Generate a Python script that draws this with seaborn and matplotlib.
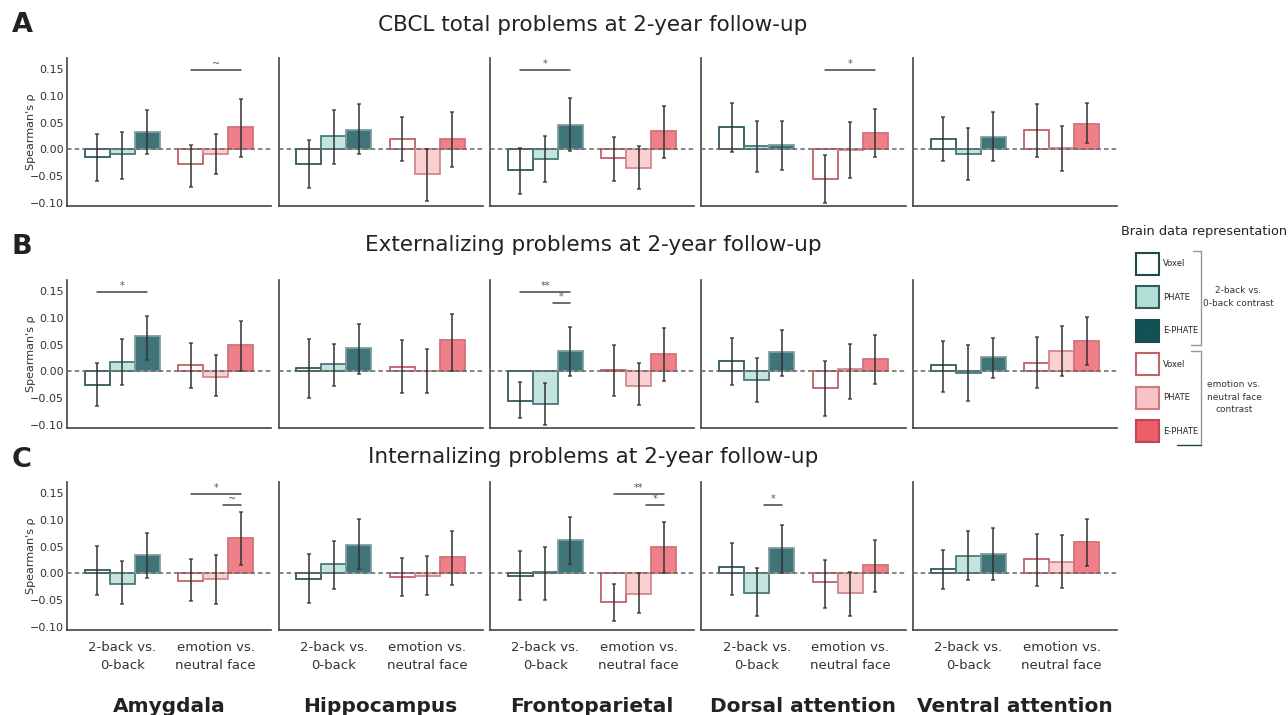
import pandas as pd
import seaborn as sns
import matplotlib.pyplot as plt
from matplotlib.colors import to_rgba
from matplotlib.patches import Patch
from matplotlib.lines import Line2D

# ---- data ----
regions = ['Amygdala', 'Hippocampus', 'Frontoparietal', 'Dorsal attention', 'Ventral attention']
contrasts = ['2-back vs.\n0-back', 'emotion vs.\nneutral face']
methods = ['Voxel', 'PHATE', 'E-PHATE']
outcomes = ['CBCL total problems at 2-year follow-up',
            'Externalizing problems at 2-year follow-up',
            'Internalizing problems at 2-year follow-up']
panel_letters = ['A', 'B', 'C']

# each row: [2b Voxel, 2b PHATE, 2b E-PHATE, emo Voxel, emo PHATE, emo E-PHATE]
rho_total = [[-0.015, -0.009, 0.033, -0.027, -0.008, 0.041],
             [-0.028, 0.025, 0.036, 0.020, -0.047, 0.019],
             [-0.038, -0.018, 0.046, -0.017, -0.034, 0.034],
             [0.042, 0.006, 0.009, -0.055, -0.002, 0.031],
             [0.020, -0.008, 0.024, 0.036, 0.002, 0.048]]
lo_total = [[-0.060, -0.055, -0.009, -0.070, -0.046, -0.014],
            [-0.072, -0.028, -0.009, -0.021, -0.096, -0.033],
            [-0.083, -0.061, -0.003, -0.059, -0.075, -0.017],
            [-0.004, -0.042, -0.038, -0.100, -0.053, -0.014],
            [-0.021, -0.057, -0.021, -0.014, -0.040, 0.011]]
hi_total = [[0.029, 0.032, 0.073, 0.008, 0.028, 0.094],
            [0.017, 0.074, 0.084, 0.060, 0.001, 0.069],
            [0.002, 0.025, 0.097, 0.023, 0.006, 0.081],
            [0.086, 0.054, 0.054, -0.011, 0.051, 0.076],
            [0.060, 0.040, 0.070, 0.085, 0.043, 0.087]]

rho_ext = [[-0.025, 0.018, 0.066, 0.011, -0.010, 0.049],
           [0.006, 0.013, 0.044, 0.009, 0.001, 0.058],
           [-0.055, -0.062, 0.038, 0.003, -0.027, 0.033],
           [0.020, -0.017, 0.037, -0.031, 0.004, 0.024],
           [0.011, -0.003, 0.026, 0.016, 0.038, 0.056]]
lo_ext = [[-0.064, -0.025, 0.022, -0.032, -0.046, 0.000],
          [-0.050, -0.027, -0.004, -0.040, -0.041, 0.000],
          [-0.088, -0.101, -0.009, -0.046, -0.063, -0.018],
          [-0.026, -0.058, -0.008, -0.084, -0.051, -0.023],
          [-0.038, -0.055, -0.013, -0.031, -0.008, 0.011]]
hi_ext = [[0.015, 0.061, 0.103, 0.053, 0.030, 0.094],
          [0.061, 0.051, 0.088, 0.058, 0.041, 0.107],
          [-0.020, -0.021, 0.083, 0.049, 0.015, 0.081],
          [0.062, 0.025, 0.077, 0.020, 0.052, 0.068],
          [0.057, 0.050, 0.063, 0.064, 0.084, 0.101]]

rho_int = [[0.007, -0.019, 0.034, -0.014, -0.010, 0.066],
           [-0.010, 0.018, 0.054, -0.007, -0.005, 0.031],
           [-0.004, 0.003, 0.062, -0.054, -0.039, 0.050],
           [0.011, -0.037, 0.047, -0.017, -0.037, 0.015],
           [0.008, 0.033, 0.037, 0.026, 0.021, 0.058]]
lo_int = [[-0.041, -0.057, -0.009, -0.052, -0.058, 0.016],
          [-0.055, -0.029, 0.008, -0.042, -0.040, -0.021],
          [-0.049, -0.049, 0.018, -0.089, -0.075, 0.001],
          [-0.041, -0.079, 0.001, -0.065, -0.079, -0.034],
          [-0.030, -0.012, -0.012, -0.024, -0.027, 0.014]]
hi_int = [[0.052, 0.023, 0.075, 0.026, 0.035, 0.114],
          [0.036, 0.060, 0.101, 0.029, 0.032, 0.080],
          [0.042, 0.049, 0.106, -0.020, 0.000, 0.096],
          [0.057, 0.010, 0.091, 0.025, 0.003, 0.063],
          [0.044, 0.079, 0.085, 0.073, 0.072, 0.102]]

# significance bars: (outcome, region, contrast, method from, method to, level, label)
sig_marks = [(0, 0, 1, 0, 2, 0, '~'), (0, 2, 0, 0, 2, 0, '*'), (0, 3, 1, 0, 2, 0, '*'),
             (1, 0, 0, 0, 2, 0, '*'), (1, 2, 0, 0, 2, 0, '**'), (1, 2, 0, 1, 2, 1, '*'),
             (2, 0, 1, 0, 2, 0, '*'), (2, 0, 1, 1, 2, 1, '~'), (2, 2, 1, 0, 2, 0, '**'),
             (2, 2, 1, 1, 2, 1, '*'), (2, 3, 0, 1, 2, 1, '*')]
sig_levels = [0.148, 0.128]

# colours: [contrast][method]
face_cols = [['#ffffff', '#b4dfd6', '#0f5257'], ['#ffffff', '#f8c3c3', '#ec5f6a']]
edge_cols = [['#2e5b5d', '#4b7878', '#7e9ea0'], ['#c06068', '#d08a8e', '#d0737a']]
legend_edges = [['#1f4a4c', '#2f5e5e', '#1f4a4c'], ['#c0646c', '#d07a80', '#c04650']]

# long table
records = []
for oi, (rt, lt, ht) in enumerate([(rho_total, lo_total, hi_total),
                                   (rho_ext, lo_ext, hi_ext),
                                   (rho_int, lo_int, hi_int)]):
    for ri, reg in enumerate(regions):
        for ci, con in enumerate(contrasts):
            for mi, met in enumerate(methods):
                k = ci * 3 + mi
                records.append(dict(outcome=oi, region=reg, contrast=con, method=met,
                                    rho=rt[ri][k], lo=lt[ri][k], hi=ht[ri][k]))
df = pd.DataFrame(records)

sns.set_style('white')
plt.rcParams['font.family'] = ['DejaVu Sans']

W, H = 1288, 715
fig = plt.figure(figsize=(W / 100, H / 100), dpi=100)

row_tops = [58, 280, 482]
ax_h, ax_w = 148, 204
col_left0, col_step = 67, 211.5

for oi in range(3):
    for ri, reg in enumerate(regions):
        left = col_left0 + ri * col_step
        ax = fig.add_axes([left / W, 1 - (row_tops[oi] + ax_h) / H, ax_w / W, ax_h / H])
        sub = df[(df.outcome == oi) & (df.region == reg)]
        sns.barplot(data=sub, x='contrast', y='rho', hue='method', order=contrasts,
                    hue_order=methods, errorbar=None, width=0.8, saturation=1,
                    legend=False, ax=ax, zorder=2)
        bar_groups = list(ax.containers)
        centers = {}
        for mi, cont in enumerate(bar_groups):
            for ci, bar in enumerate(cont):
                bar.set_facecolor(to_rgba(face_cols[ci][mi], 0.8))
                bar.set_edgecolor(edge_cols[ci][mi])
                bar.set_linewidth(1.3)
                row = sub[(sub.contrast == contrasts[ci]) & (sub.method == methods[mi])].iloc[0]
                xc = bar.get_x() + bar.get_width() / 2
                centers[(ci, mi)] = xc
                ax.errorbar(xc, row.rho, yerr=[[row.rho - row.lo], [row.hi - row.rho]],
                            fmt='none', ecolor='#333333', elinewidth=1.3, capsize=1.3,
                            capthick=1.1, alpha=0.85, zorder=4)
        ax.axhline(0, color='#666666', lw=1.1, ls=(0, (3, 2)), zorder=3)

        for (so, sr, sc, m1, m2, lev, lab) in sig_marks:
            if so == oi and sr == ri:
                x1, x2 = centers[(sc, m1)], centers[(sc, m2)]
                if m2 - m1 == 1:
                    x1 += 0.08
                y = sig_levels[lev]
                ax.plot([x1, x2], [y, y], color='#444444', lw=1.1)
                ax.annotate(lab, ((x1 + x2) / 2, y), xytext=(0, 1), textcoords='offset points',
                            ha='center', va='bottom', fontsize=7, color='#555555')

        ax.set_xlim(-0.59, 1.59)
        ax.set_ylim(-0.106, 0.171)
        ax.set_yticks([-0.10, -0.05, 0.0, 0.05, 0.10, 0.15])
        ax.set_xlabel('')
        ax.set_ylabel('')
        for s in ['top', 'right']:
            ax.spines[s].set_visible(False)
        for s in ['left', 'bottom']:
            ax.spines[s].set_color('#444444')
            ax.spines[s].set_linewidth(1.2)
        ax.tick_params(length=0, labelsize=8, colors='#333333', pad=2)
        if ri == 0:
            ax.set_ylabel("Spearman's \u03c1", fontsize=8, color='#333333', labelpad=-4)
        else:
            ax.tick_params(labelleft=False)
        if oi == 2:
            ax.tick_params(axis='x', labelsize=9.5, pad=8)
            for t in ax.get_xticklabels():
                t.set_linespacing(1.45)
        else:
            ax.tick_params(labelbottom=False)

    fig.text(593 / W, 1 - [25, 245, 457][oi] / H, outcomes[oi], ha='center', va='center',
             fontsize=15.5, color='#222222')
    fig.text(22 / W, 1 - [25, 247, 460][oi] / H, panel_letters[oi], ha='center', va='center',
             fontsize=19.5, fontweight='bold', color='#222222')

for ri, reg in enumerate(regions):
    fig.text((col_left0 + ri * col_step + ax_w / 2) / W, 1 - 697 / H, reg, ha='center', va='top',
             fontsize=14.5, fontweight='bold', color='#222222')

# legend
handles = []
for ci in range(2):
    for mi in range(3):
        handles.append(Patch(facecolor=face_cols[ci][mi], edgecolor=legend_edges[ci][mi], linewidth=1.5))
fig.legend(handles=handles, labels=methods * 2, loc='upper left',
           bbox_to_anchor=(1136 / W, 1 - 253 / H), frameon=False, fontsize=6,
           handlelength=2.76, handleheight=3.69, labelspacing=1.37, handletextpad=0.5,
           borderpad=0, borderaxespad=0)
fig.text(1121 / W, 1 - 232 / H, 'Brain data representation', ha='left', va='center',
         fontsize=9.3, color='#222222')

brk = '#8c9c9c'
for (y0, y1, t0, t1) in [(251, 345, 1193, 1191), (351, 445, 1191, 1177)]:
    fig.add_artist(Line2D([1201 / W, 1201 / W], [1 - y0 / H, 1 - y1 / H], color=brk, lw=1))
    fig.add_artist(Line2D([t0 / W, 1201 / W], [1 - y0 / H, 1 - y0 / H], color=brk, lw=1))
    fig.add_artist(Line2D([t1 / W, 1201 / W], [1 - y1 / H, 1 - y1 / H],
                          color=brk if y0 == 251 else '#1e4445', lw=1))
fig.text(1238 / W, 1 - 297 / H, '2-back vs.\n0-back contrast', ha='center', va='center',
         fontsize=6.5, color='#333333', linespacing=1.5)
fig.text(1234 / W, 1 - 397 / H, 'emotion vs.\nneutral face\ncontrast', ha='center', va='center',
         fontsize=6.5, color='#333333', linespacing=1.5)

fig.savefig('out.png', dpi=100)
